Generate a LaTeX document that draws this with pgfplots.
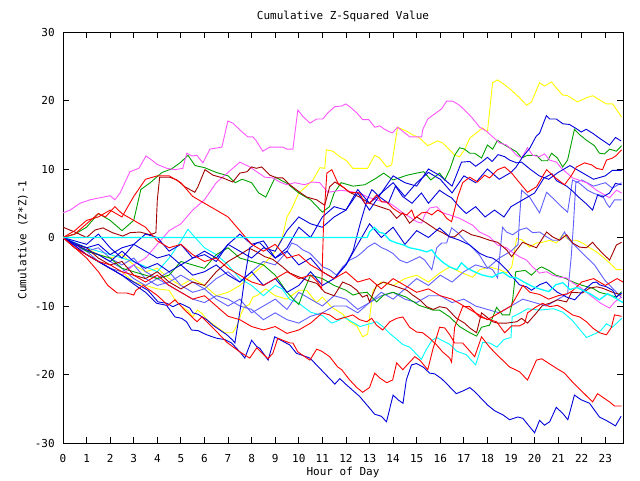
\documentclass[border=0pt]{standalone}
\usepackage{pgfplots}
\pgfplotsset{compat=1.18}
\usepackage{fontspec}
\setmainfont{DejaVu Sans Mono}
\definecolor{cred}{RGB}{255,0,0}
\definecolor{cgreen}{RGB}{0,160,0}
\definecolor{cblue}{RGB}{0,0,220}
\definecolor{cmag}{RGB}{255,85,255}
\definecolor{ccyan}{RGB}{0,255,255}
\definecolor{cdred}{RGB}{160,0,0}
\definecolor{cyel}{RGB}{255,255,0}
\definecolor{clblue}{RGB}{96,96,255}
\begin{document}
\fontsize{11}{13}\selectfont
\begin{tikzpicture}[x=1pt,y=1pt]
\fill[white] (0,0) rectangle (640,480);
\path[use as bounding box] (0,0) rectangle (640,480);
\begin{axis}[
  at={(63pt,37pt)}, anchor=south west, scale only axis,
  width=560pt, height=411pt,
  xmin=0, xmax=23.75, ymin=-30, ymax=30,
  xtick={0,1,...,23}, ytick={-30,-20,...,30},
  tick align=inside, major tick length=6pt,
  axis line style={line width=0.9pt},
  every tick/.style={black, line width=0.9pt},
  /pgf/number format/assume math mode=true,
  xticklabel style={anchor=base, yshift=-19pt},
  yticklabel style={anchor=east, xshift=-4.5pt},
  every axis plot/.append style={line width=0.9pt, no marks},
]
% yellow top
\addplot[cyel] coordinates {(0,0)(0.5,-1)(1,-1.5)(1.5,-2.5)(2,-3)(2.5,-2.5)(3,-4)(3.5,-5)(4,-4.5)(4.5,-6)(5,-7)(5.5,-6)(6,-7)(6.5,-8.5)(7,-8)(7.5,-7)(8,-5.5)(8.5,-4)(9,-2)(9.3,0)(9.5,3)(9.7,4.2)(10.0,6.5)(10.3,7.4)(10.6,8.4)(10.9,10.2)(11.1,10.1)(11.17,12.8)(11.44,12.6)(11.74,11.8)(12.03,11.2)(12.29,10.1)(12.92,10.1)(13.22,12.0)(13.43,11.6)(13.73,10.3)(13.94,10.6)(14.19,16.1)(14.58,15.5)(14.83,15.0)(15.13,14.5)(15.47,13.4)(15.89,14.1)(16.1,13.8)(16.4,12.8)(16.61,12.0)(16.82,11.8)(17.03,12.8)(17.25,14.5)(17.8,16.0)(18.0,15.4)(18.22,22.6)(18.43,23.0)(18.73,22.3)(19.02,21.5)(19.36,20.4)(19.66,19.3)(19.87,19.8)(20.21,22.6)(20.42,22.1)(20.72,22.7)(20.93,21.8)(21.19,20.8)(21.4,20.7)(21.82,19.8)(22.2,20.4)(22.46,20.7)(22.75,20.1)(23.05,19.5)(23.31,19.5)(23.69,17.6)};
% yellow low
\addplot[cyel] coordinates {(0,0)(0.5,-1.5)(1,-2.5)(1.5,-3.5)(2,-4.5)(2.5,-5)(3,-6.5)(3.5,-7)(4,-7.5)(4.5,-7.7)(4.75,-9.1)(5.0,-10)(5.3,-10.7)(5.5,-11.6)(5.7,-10.6)(5.9,-11.1)(6.1,-12)(6.5,-13)(6.86,-13.9)(7.2,-13.9)(7.4,-12.7)(7.57,-11)(7.7,-10.1)(7.9,-9.8)(8.05,-8.7)(8.26,-8.4)(8.6,-7.5)(9.0,-8.5)(9.5,-9)(10,-7.7)(10.33,-7.7)(10.75,-9.5)(11.0,-8.7)(11.4,-10.2)(11.87,-11.2)(12.16,-12.3)(12.46,-12.9)(12.71,-14.5)(12.92,-14.1)(13.1,-9)(13.15,-7.7)(13.5,-6.5)(14,-7)(14.5,-6)(15,-5.5)(15.5,-6.5)(15.97,-5.2)(16.4,-4.3)(16.82,-5.0)(17.37,-5.8)(17.67,-4.7)(18.09,-4.3)(18.52,-4.7)(18.81,-5.2)(19.03,-4.3)(19.24,-0.1)(19.49,-0.4)(19.79,-1.4)(20.08,-0.8)(20.34,-0.7)(20.64,-0.4)(20.93,-0.8)(21.19,0.4)(21.48,-0.4)(21.78,-0.4)(22.03,-0.8)(22.33,-1.5)(22.63,-2.1)(22.88,-2.8)(23.18,-3.7)(23.47,-4.7)(23.69,-4.7)};
% cyan low
\addplot[ccyan] coordinates {(0,0)(1,-1.5)(2,-2.5)(3,-3.5)(4,-5)(4.5,-3)(5,-0.5)(5.3,1.2)(5.6,0)(6,-1.5)(6.5,-2.5)(7,-4)(7.5,-6)(8,-7)(8.5,-8.5)(9,-7)(9.3,-7.5)(9.6,-9)(10,-9.6)(10.5,-10.9)(11,-11.4)(11.4,-12.5)(11.7,-12.1)(11.9,-11.6)(12.3,-12.4)(12.6,-13)(13.0,-12.6)(13.3,-12.3)(13.6,-13.1)(13.85,-14)(14.1,-14.7)(14.4,-15.6)(14.7,-16)(14.9,-16.7)(15.2,-17.8)(15.4,-16.4)(15.65,-15)(15.85,-14.6)(16.06,-15)(16.4,-15.6)(16.7,-16.6)(17.1,-17.1)(17.5,-18.6)(17.8,-15.3)(18.1,-15.4)(18.4,-16)(18.7,-14.9)(19.0,-14.6)(19.05,-11.6)(19.4,-11)(19.7,-10.4)(20.2,-10.6)(20.8,-10.4)(21.2,-10.9)(21.6,-12.1)(22.2,-14.6)(22.6,-14)(22.8,-13.6)(23.05,-12.6)(23.3,-13.1)(23.7,-11.8)};
% light blues
\addplot[clblue] coordinates {(0,0)(0.5,-1)(1,-2)(1.5,-1.5)(2,-3)(2.5,-4)(3,-3)(3.5,-5)(4,-6)(4.5,-5)(5,-7)(5.5,-8)(6,-7.5)(6.5,-9)(7,-10)(7.5,-9)(8,-11)(8.5,-10)(9,-9)(9.5,-10.5)(10,-8)(10.5,-9)(11,-10)(11.5,-8.5)(12,-9)(12.5,-10.5)(13,-9.5)(13.5,-8)(14,-9)(14.5,-7.5)(15,-6)(15.5,-7)(16,-5.5)(16.5,-6.5)(17,-5)(17.5,-4)(18,-4.5)(18.5,-3)(19,-2)(19.3,-1)(19.36,2.8)(19.45,6.9)(19.79,5.9)(20.08,4.3)(20.21,3.6)(20.51,6.6)(20.85,5.5)(21.14,4.5)(21.4,3.7)(21.61,8.4)(21.91,7.9)(22.25,6.9)(22.54,6.4)(22.88,6.1)(23.05,5.0)(23.18,4.4)(23.39,5.5)(23.69,5.5)};
\addplot[clblue] coordinates {(0,0)(0.5,-1.2)(1,-2)(1.5,-3.5)(2,-4.5)(2.5,-5)(3,-4)(3.5,-6)(4,-7)(4.5,-6.5)(5,-5.5)(5.5,-6.5)(6,-7.5)(6.5,-6)(7,-5)(7.5,-6.5)(8,-5)(8.5,-3.5)(9,-4)(9.49,-2.1)(9.7,-0.8)(9.92,-1.1)(10.17,-1.8)(10.47,-2.3)(10.76,-3.3)(11.02,-4.3)(11.31,-4.7)(11.6,-5.5)(11.86,-4.3)(12.16,-3.3)(12.46,-2.8)(12.71,-2.1)(12.92,-1.4)(13.22,-0.8)(13.52,-1.5)(13.73,-1.8)(13.98,-2.3)(14.28,-3.3)(14.58,-3.7)(14.83,-3.3)(15.13,-2.8)(15.34,-3.3)(15.64,-4.7)(15.85,-1.5)(16.06,-0.8)(16.27,-0.8)(16.48,1.4)(16.74,0.7)(17.03,-0.4)(17.37,-1.5)(17.67,-2.6)(17.97,-4.3)(18.22,-4.7)(18.43,-5.9)(18.64,1.5)(18.81,0.8)(19.07,0.4)(19.36,1.1)(19.66,1.4)(19.92,0.7)(20.21,0.8)(20.51,0.1)(20.76,-0.4)(21.06,-0.4)(21.27,0.8)(21.4,-0.1)(21.69,-1.1)(22.12,-2.6)(22.54,-4.0)(22.97,-6.2)(23.39,-7.7)(23.69,-8.8)};
\addplot[clblue] coordinates {(0,0)(0.5,-1)(1,-2)(1.5,-2.5)(2,-3.5)(2.5,-4.5)(3,-6)(3.5,-7)(4,-6)(4.5,-7)(5,-8)(5.5,-9)(6,-9.5)(6.5,-8.5)(7,-9)(7.5,-10)(8,-10.5)(8.5,-12)(9,-11)(9.5,-12)(10,-12.5)(10.5,-11.5)(11,-11)(11.5,-10)(12,-10)(12.5,-11)(13,-9.5)(13.5,-8.5)(14,-8)(14.5,-9)(15,-9.5)(15.5,-8.5)(16,-8.5)(16.5,-9.5)(17,-9)(17.5,-10)(18,-10.5)(18.5,-11)(19,-10)(19.5,-9)(20,-9.5)(20.5,-10)(21,-9)(21.4,-8.2)(21.55,-3)(21.65,2)(21.75,8)(22,8.4)(22.5,7.5)(23,8)(23.3,7.2)(23.69,8.0)};
% greens
\addplot[cgreen] coordinates {(0,0)(0.5,0.5)(1,1.5)(1.5,3.5)(2,2.5)(2.5,1)(3,2.5)(3.3,7)(3.7,8)(4.2,9.5)(4.6,10)(5,11)(5.3,12)(5.6,10.5)(6,10.2)(6.5,9.5)(7,9)(7.3,8)(7.6,8.5)(8,8)(8.3,6.5)(8.6,5.9)(9,8.8)(9.5,7.9)(10,6.5)(10.5,5.5)(11,3.7)(11.3,4.5)(11.5,6.5)(11.8,8)(12.3,7.5)(12.8,7.7)(13.3,8.7)(13.6,9.4)(14,8.4)(14.6,9.1)(15,9.4)(15.3,9.6)(15.6,8.4)(15.97,9.4)(16.19,8.4)(16.4,9.9)(16.61,12.0)(16.82,13.1)(17.03,12.9)(17.25,12.3)(17.46,12.3)(17.75,11.6)(18.0,13.5)(18.22,12.9)(18.43,14.2)(18.73,13.5)(18.94,13.1)(19.24,12.5)(19.45,11.6)(19.7,12.0)(20.08,12.0)(20.3,11.2)(20.55,11.2)(20.72,12.3)(20.97,11.6)(21.19,10.3)(21.4,11.3)(21.69,15.8)(21.91,15.0)(22.2,14.2)(22.54,13.4)(22.75,12.3)(22.97,12.2)(23.18,12.9)(23.47,12.6)(23.69,13.4)};
\addplot[cgreen] coordinates {(0,0)(0.5,-1)(1,-2)(1.5,-2.5)(2,-3)(2.5,-4.5)(3,-5)(3.5,-5.5)(4,-6)(4.5,-5.5)(5,-3.5)(5.5,-4)(6,-4.5)(6.5,-2.5)(7,-1.5)(7.5,-3)(8,-3.5)(8.5,-4)(9,-5.5)(9.5,-8)(9.8,-9.1)(10.0,-9.8)(10.2,-7.9)(10.5,-5.5)(11,-6)(11.5,-7)(12.0,-7.7)(12.3,-8.4)(12.6,-8.1)(12.9,-8.0)(13.3,-9.4)(13.6,-8.4)(14.0,-8.0)(14.55,-8.7)(15.1,-9.9)(15.7,-10.6)(15.97,-10.6)(16.4,-11.6)(16.82,-13.0)(17.25,-13.9)(17.54,-14.4)(17.75,-13.1)(18.09,-12.8)(18.39,-10.2)(18.64,-11.3)(18.94,-11.3)(19.07,-9.1)(19.2,-5)(19.6,-4.8)(19.87,-5.5)(20.17,-4.5)(20.3,-4.3)(20.6,-4.8)(20.9,-5.5)(21.2,-5.8)(21.5,-6.3)(21.78,-6.7)(22.03,-7.0)(22.46,-7.4)(22.75,-8.0)(23.18,-8.4)(23.47,-8.7)(23.69,-7.9)};
% magentas
\addplot[cmag] coordinates {(0,3.6)(0.3,4.0)(0.72,5.0)(1.14,5.5)(1.57,5.8)(2.0,6.1)(2.2,5.5)(2.42,6.5)(2.84,9.6)(3.22,10.1)(3.52,11.9)(3.77,11.3)(3.98,10.7)(4.4,10.1)(4.75,9.9)(5.08,10.1)(5.25,12.3)(5.47,11.9)(5.68,12.0)(5.93,10.9)(6.23,12.9)(6.74,13.2)(6.99,17.0)(7.2,16.7)(7.63,15.3)(7.84,14.7)(8.05,14.7)(8.18,14.2)(8.47,12.6)(8.77,13.2)(9.32,13.2)(9.49,12.9)(9.75,12.9)(9.96,18.6)(10.17,17.7)(10.47,16.7)(10.76,17.3)(11.02,17.3)(11.23,18.2)(11.53,19.1)(11.82,19.2)(11.99,19.5)(12.16,19.1)(12.46,18.2)(12.71,17.2)(12.97,17.2)(13.22,16.1)(13.43,16.3)(13.64,15.8)(13.86,15.4)(13.98,15.3)(14.19,16.1)(14.41,15.5)(14.7,14.7)(15.21,14.7)(15.25,15.7)(15.47,17.3)(16.06,18.8)(16.27,19.9)(16.53,19.9)(16.82,19.3)(17.12,18.3)(17.37,17.4)(17.67,16.1)(17.97,15.5)(18.22,14.7)(18.52,13.8)(18.81,13.5)(19.03,12.8)(19.24,12.0)(19.45,11.6)(19.7,13.1)(19.92,12.0)(20.21,11.8)(20.42,12.2)(20.64,11.3)(20.93,11.0)(21.14,10.1)(21.61,8.7)(22.2,8.0)(22.63,6.9)(23.18,5.8)(23.47,6.9)(23.69,6.5)};
\addplot[cmag] coordinates {(0,0)(0.5,-1)(1,-2.5)(1.5,-3.5)(2,-4.5)(2.5,-5.5)(3,-4)(3.5,-3)(4,-1)(4.5,1)(5,2)(5.5,4)(6,5.5)(6.5,8)(7,9.5)(7.5,11)(7.92,10.3)(8.22,9.6)(8.56,8.8)(8.9,8.7)(9.19,8.1)(9.49,7.7)(9.83,8.0)(10.25,7.7)(10.55,8.1)(10.89,8.0)(11.23,6.6)(11.8,6.9)(12.58,6.5)(12.92,5.9)(13.3,5.5)(13.56,5.2)(13.86,5.0)(14.15,4.3)(14.41,3.6)(14.7,3.0)(15.0,2.3)(15.21,2.1)(15.34,3.3)(15.55,4.3)(15.85,4.5)(16.1,3.6)(16.4,3.3)(16.82,2.8)(17.37,1.8)(17.67,0.8)(18.09,0.1)(18.43,-1.1)(18.81,-1.5)(19.03,-2.1)(19.36,-2.8)(19.66,-3.3)(19.92,-4.3)(20.21,-5.2)(20.51,-5.0)(20.76,-5.5)(21.06,-5.8)(21.36,-5.9)(21.61,-6.6)(21.91,-7.2)(22.2,-8.0)(22.46,-8.7)(22.8,-9.6)(23.18,-10.3)(23.4,-9.4)(23.69,-8.7)};
% dark reds
\addplot[cdred] coordinates {(0,1.5)(0.5,0.8)(1,0)(1.36,1.1)(1.7,1.4)(2.1,0.7)(2.54,0.2)(2.84,0.7)(3.26,0.8)(3.69,0.4)(3.94,0.7)(4.0,5.5)(4.1,8.8)(4.53,8.8)(4.83,8.4)(5.17,7.4)(5.59,6.6)(5.72,7.4)(6.02,9.9)(6.36,9.1)(6.78,8.7)(7.2,8.1)(7.5,9.4)(7.8,9.6)(8.0,10.3)(8.2,10.1)(8.43,10.3)(8.77,9.1)(9.07,8.7)(9.32,8.7)(9.62,7.7)(10.04,6.6)(10.34,5.9)(10.76,5.5)(11.1,4.7)(11.31,7.4)(11.53,8.1)(11.86,7.4)(12.16,6.6)(12.58,5.9)(13.0,5.0)(13.43,4.5)(13.86,4.0)(14.15,2.8)(14.41,3.6)(14.7,2.1)(15.0,3.0)(15.42,2.1)(15.85,1.1)(16.1,0.7)(16.4,0.1)(16.61,0.1)(16.95,1.1)(17.33,0.4)(17.67,0.1)(18.09,-0.4)(18.43,-0.7)(18.81,-1.8)(19.03,-2.8)(19.24,-1.8)(19.49,-0.7)(19.79,-1.1)(20.08,-1.5)(20.51,0.8)(20.76,0.1)(21.06,-0.4)(21.36,0.4)(21.61,-0.8)(21.91,-1.4)(22.2,-1.5)(22.46,-0.7)(22.63,-1.4)(22.88,-2.3)(23.18,-3.3)(23.47,-1.1)(23.69,-0.7)};
\addplot[cdred] coordinates {(0,0)(0.5,-1)(1,-1.5)(1.5,-3)(2,-4)(2.5,-3.5)(3,-5.5)(3.5,-6)(4,-5)(4.5,-6.5)(5,-7.5)(5.5,-6.5)(6,-7)(6.5,-5)(7,-3.5)(7.5,-2.5)(7.92,-1.6)(8.22,-2.1)(8.56,-2.8)(8.9,-3.2)(9.28,-4.2)(9.62,-5.2)(10.04,-5.8)(10.38,-6.3)(10.76,-6.7)(11.1,-8)(11.5,-8.5)(11.86,-6.5)(12.2,-7)(12.46,-7.7)(12.7,-8.7)(12.9,-8.4)(13.0,-9.4)(13.3,-7)(13.6,-6.5)(14.0,-7)(14.58,-7.7)(14.83,-8.4)(15.13,-9.1)(15.42,-10.1)(15.7,-10.5)(15.97,-10.1)(16.27,-10.3)(16.69,-11.8)(17.03,-12.5)(17.25,-13.2)(17.54,-13.9)(17.75,-11.0)(17.97,-11.6)(18.22,-12.3)(18.43,-12.5)(18.81,-12.5)(19.24,-12.3)(19.45,-11.8)(19.7,-12.5)(20.08,-11.0)(20.34,-9.9)(20.64,-9.6)(20.97,-9.1)(21.36,-9.4)(21.57,-8.0)(22.03,-8.1)(22.33,-7.4)(22.63,-7.2)(22.88,-7.4)(23.31,-8.0)(23.69,-8.4)};
% blues
\addplot[cblue] coordinates {(0,0)(0.5,-0.8)(1,-1.5)(1.5,-1)(2,-2.5)(2.5,-1.5)(3,-1)(3.5,-2)(4,-3)(4.5,-2.5)(5,-4)(5.5,-3)(6,-2)(6.5,-3)(7,-1)(7.5,-2)(8,-3)(8.5,-1.5)(9,-2)(9.5,1)(10,3)(10.5,2)(11,1.5)(11.5,3)(12,4)(12.5,7)(13,5)(13.5,6.5)(14,8)(14.5,6)(15,8)(15.5,9.5)(16,8.5)(16.5,6.5)(17,9)(17.5,8)(18,10)(18.5,8.5)(19,9.5)(19.22,10.3)(19.5,11.8)(19.79,13.0)(20.07,14.8)(20.21,15.2)(20.5,17.8)(20.64,17.3)(20.92,17.3)(21.2,16.6)(21.48,16.5)(21.77,15.9)(21.98,15.4)(22.19,15.8)(22.47,15.2)(22.75,14.5)(23.18,13.5)(23.43,14.6)(23.67,14.1)};
\addplot[cblue] coordinates {(0,0)(0.5,-0.5)(1,-1)(1.5,0.5)(2,-1.5)(2.5,-3)(3,-1)(3.5,0.5)(4,0)(4.5,-2)(5,-1)(5.5,-3)(6,-2.5)(6.5,-3.5)(7,-1)(7.5,0.5)(8,-1)(8.5,-0.5)(9,-3)(9.5,-1.5)(10,1.5)(10.5,0)(11,3)(11.5,4.5)(12,4)(12.5,6.5)(13,4)(13.5,6.5)(14,9)(14.5,8)(15,7.5)(15.5,10)(16,9)(16.5,7.5)(16.9,11)(17.25,11.1)(17.5,10.4)(17.75,11)(18,11.7)(18.2,11.1)(18.45,12.1)(18.73,11.8)(18.94,11.3)(19.24,10.9)(19.45,11)(19.8,10)(20.2,9)(20.6,8.5)(21,9.5)(21.5,10.5)(22,9.5)(22.5,8.5)(23,9)(23.3,9.8)(23.69,9.8)};
\addplot[cblue] coordinates {(0,0)(0.5,-1)(1,-1.8)(1.5,-2.5)(2,-3.5)(2.5,-2)(3,-3.5)(3.5,-4.5)(4,-3.8)(4.5,-5)(5,-4)(5.5,-5.5)(6,-5)(6.5,-4)(7,-5.5)(7.5,-6.5)(8,-5)(8.5,-7)(9,-6)(9.5,-8)(10,-7)(10.5,-5)(11,-7)(11.5,-6)(12,-4)(12.3,-2)(12.6,2)(12.9,5.5)(13.1,7)(13.4,6)(13.8,5)(14.1,7.5)(14.4,6)(14.8,5)(15.2,6.5)(15.5,5)(15.97,6.9)(16.27,6.2)(16.48,5.8)(16.8,4.5)(17.1,3.5)(17.5,4.5)(17.9,3)(18.3,4)(18.7,3)(19.0,4.5)(19.5,5.5)(20.0,6.5)(20.4,8.7)(20.74,9.3)(20.93,8.3)(21.36,7.5)(21.6,6.8)(21.9,5.8)(22.2,4.9)(22.46,4.0)(22.67,6.2)(22.88,5.9)(23.18,6.5)(23.43,7.9)(23.69,7.7)};
\addplot[cblue] coordinates {(0,0)(0.5,-1.5)(1,-2.5)(1.5,-3.5)(2,-4.5)(2.5,-5.5)(3,-6.5)(3.6,-7.7)(4.03,-9.4)(4.4,-9.6)(4.66,-10.1)(4.96,-9.6)(5.38,-10.3)(5.51,-11.0)(5.72,-11.2)(6.1,-12.0)(6.36,-12.8)(6.65,-13.5)(6.95,-14.2)(7.2,-15.0)(7.29,-15.4)(7.58,-9.1)(7.71,-5.8)(7.92,-1.5)(8.22,-0.8)(8.35,-0.8)(8.7,-2)(9,-3)(9.5,-2)(10,-4)(10.5,-3)(11,-5)(11.5,-6)(12,-4)(12.5,-1)(13,2)(13.5,0)(14,1.5)(14.5,-1)(15,1)(15.5,0)(15.97,1.4)(16.4,0.1)(16.82,-0.4)(17.25,-1.1)(17.67,-2.3)(17.97,-2.8)(18.22,-3.0)(18.52,-3.7)(18.81,-4.7)(19.07,-5.8)(19.36,-6.9)(19.66,-7.2)(19.87,-7.7)(20.21,-6.9)(20.5,-6.5)(20.76,-7.4)(20.97,-8.0)(21.36,-8.7)(21.7,-9.1)(22.0,-8)(22.46,-6.6)(22.63,-6.5)(22.75,-6.9)(23.05,-7.2)(23.31,-7.7)(23.47,-8.7)(23.69,-8.1)};
\addplot[cblue] coordinates {(0,0)(0.5,-1.2)(1,-2.5)(1.5,-3.5)(2,-4.5)(2.5,-5.5)(3,-6.8)(3.5,-8)(3.97,-9.6)(4.39,-9.9)(4.75,-11.6)(5.03,-11.8)(5.24,-12.3)(5.45,-13.5)(5.73,-13.6)(6.09,-14.2)(6.51,-14.7)(6.86,-14.9)(7.15,-15.4)(7.5,-16.7)(7.71,-17.6)(8.0,-15.0)(8.21,-15.9)(8.35,-16.2)(8.7,-17.9)(8.98,-14.5)(9.19,-14.9)(9.62,-15.7)(9.9,-16.9)(10.47,-17.6)(11.03,-19.6)(11.53,-21.4)(11.74,-20.6)(12.02,-21.5)(12.58,-23.2)(13.22,-25.8)(13.5,-26.1)(13.72,-26.9)(14.0,-23.0)(14.21,-23.7)(14.42,-24.2)(14.56,-20.8)(14.78,-18.6)(14.99,-18.4)(15.27,-18.9)(15.55,-19.8)(15.76,-19.9)(16.05,-20.6)(16.26,-21.3)(16.68,-22.8)(16.96,-22.4)(17.25,-21.9)(17.46,-22.5)(17.74,-23.5)(18.02,-24.5)(18.31,-25.3)(18.66,-25.9)(18.94,-26.6)(19.29,-26.2)(19.5,-26.4)(20.0,-28.5)(20.21,-26.7)(20.42,-27.4)(20.64,-26.9)(20.92,-24.8)(21.2,-25.7)(21.41,-26.6)(21.69,-23.0)(21.98,-23.7)(22.33,-24.2)(22.54,-25.2)(22.75,-26.2)(23.04,-26.7)(23.43,-27.5)(23.67,-26.1)};
% reds
\addplot[cred] coordinates {(0,0)(0.5,0.5)(1,2)(1.5,3.5)(1.8,3)(2.2,4.5)(2.5,3.5)(3,2.5)(3.5,1.5)(4,-0.5)(4.5,-1.5)(5,-1)(5.5,-2.5)(6,-3.5)(6.5,-3)(7,-4.5)(7.5,-5.5)(8,-6.5)(8.5,-7)(9,-6)(9.5,-5)(10,-6)(10.5,-5.5)(10.8,-6.5)(10.97,-7.5)(11.05,2)(11.19,9.4)(11.4,9.9)(11.65,8.0)(11.86,7.4)(12.16,6.6)(12.58,6.5)(12.8,5.0)(13.0,5.0)(13.3,6.2)(13.52,5.2)(13.73,5.2)(13.98,4.3)(14.28,3.6)(14.58,3.3)(14.79,4.0)(14.92,2.8)(15.21,3.6)(15.42,3.7)(15.64,3.3)(15.89,4.0)(16.1,3.6)(16.27,2.8)(16.48,2.3)(16.74,5.9)(16.95,8.0)(17.25,8.8)(17.58,8.1)(17.88,9.1)(18.09,8.7)(18.43,9.9)(18.73,10.3)(19.03,9.4)(19.36,8.0)(19.7,6.6)(20.08,7.4)(20.51,9.9)(20.85,8.8)(21.27,7.7)(21.57,9.1)(21.78,10.3)(22.12,10.9)(22.42,10.6)(22.63,10.1)(22.88,9.9)(23.05,11.3)(23.31,11.6)(23.47,12.0)(23.69,12.8)};
\addplot[cred] coordinates {(0,0)(0.5,1)(1,2.5)(1.5,3)(2,4)(2.5,3)(3,6)(3.5,8.5)(4,9)(4.5,9)(5,8)(5.5,6)(6,5)(6.5,4)(7,3)(7.5,1)(8,-1)(8.5,-2)(9,-1)(9.5,-3)(10,-2.5)(10.5,-4)(11,-5)(11.5,-6)(12,-5)(12.5,-6.5)(13,-6)(13.5,-7.5)(14,-6)(14.5,-7)(15,-8)(15.5,-7.5)(16,-8.5)(16.5,-9)(17,-10)(17.5,-11)(18,-12)(18.5,-11)(19,-10)(19.5,-7)(19.8,-8)(20.2,-8.3)(20.6,-9)(21,-8.5)(21.4,-8.2)(21.6,-7.8)(22,-6.5)(22.5,-6)(23,-7)(23.5,-6)(23.75,-6.5)};
\addplot[cred] coordinates {(0,0)(0.5,-1.5)(1,-2.5)(1.5,-3.5)(2,-4)(2.5,-5)(3,-5.5)(3.5,-6.5)(4,-5.5)(4.5,-7)(5,-8)(5.5,-9)(6,-8.5)(6.5,-10)(7,-11.5)(7.5,-12)(8,-13)(8.5,-13.5)(9,-13)(9.5,-14)(10,-13.5)(10.5,-12.5)(11,-11)(11.31,-11.3)(11.6,-12.0)(12.03,-11.6)(12.29,-11.3)(12.58,-12.0)(12.88,-12.3)(13.09,-11.8)(13.3,-12.8)(13.56,-13.5)(13.86,-12.3)(14.15,-11.8)(14.41,-11.6)(14.7,-13.1)(15.0,-13.8)(15.25,-13.9)(15.55,-14.7)(15.85,-15.7)(16.1,-16.7)(16.4,-17.6)(16.48,-18.2)(16.61,-13.1)(16.95,-10.1)(17.25,-10.1)(17.67,-11.6)(18.39,-12.3)(18.73,-13.9)(19.03,-12.9)(19.36,-12.9)(19.58,-12.5)(19.7,-11.0)(20.08,-10.1)(20.34,-9.6)(20.64,-10.1)(20.97,-9.9)(21.19,-10.3)(21.61,-11.3)(21.91,-11.6)(22.2,-12.3)(22.46,-13.2)(22.75,-13.9)(23.05,-14.2)(23.26,-13.1)(23.39,-11.3)(23.69,-11.5)};
\addplot[cred] coordinates {(0,0)(0.5,-1.5)(1,-3)(1.5,-5)(1.9,-7)(2.3,-8.1)(2.7,-8.1)(3.0,-8.4)(3.1,-7.7)(3.4,-7)(3.69,-7.7)(3.98,-8.4)(4.45,-9.9)(4.75,-9.1)(5.17,-10.6)(5.68,-12.3)(5.89,-11.6)(6.53,-13.8)(6.95,-15.3)(7.5,-16.7)(7.92,-17.6)(8.22,-16.1)(8.69,-17.7)(8.9,-16.9)(9.11,-14.7)(9.32,-15.0)(9.62,-15.4)(9.75,-15.4)(9.96,-16.7)(10.47,-17.9)(10.76,-16.3)(10.97,-16.6)(11.31,-17.4)(11.65,-18.9)(11.82,-19.3)(12.16,-20.8)(12.46,-21.9)(12.71,-22.6)(13.0,-21.9)(13.22,-19.8)(13.43,-20.5)(13.73,-21.2)(13.98,-20.8)(14.15,-18.3)(14.41,-19.3)(14.62,-18.5)(14.92,-17.4)(15.13,-17.9)(15.47,-19.3)(15.68,-16.4)(15.97,-13.1)(16.19,-13.2)(16.4,-14.2)(16.61,-15.4)(16.95,-15.4)(17.46,-17.4)(17.75,-14.5)(18.09,-16)(18.43,-17.2)(18.94,-18.9)(19.36,-19.6)(19.7,-20.8)(20.08,-17.9)(20.3,-17.7)(20.93,-19.1)(21.27,-19.8)(21.61,-21.1)(22.46,-24.0)(22.67,-22.8)(23.18,-24.0)(23.39,-24.6)(23.69,-24.6)};
% cyan flat (drawn last)
\addplot[ccyan, line width=1.3pt] coordinates {(0,0)(12.9,0)(13.0,0.8)(13.2,1.5)(13.4,0.8)(13.6,0.6)(13.86,-0.4)(14.15,-0.8)(14.45,-1.1)(14.7,-1.5)(15.13,-1.8)(15.42,-2.1)(15.64,-1.8)(15.85,-2.8)(16.1,-3.6)(16.4,-4.3)(16.7,-4.7)(16.9,-3.7)(17.15,-4.5)(17.45,-5.0)(17.8,-5.5)(18.2,-5.8)(18.45,-5.3)(18.66,-5.1)(18.96,-5.8)(19.25,-5.9)(19.6,-6.6)(19.94,-7.2)(20.3,-7.6)(20.6,-7.9)(20.9,-6.9)(21.2,-6.6)(21.5,-7.6)(21.8,-7.3)(22.1,-7.8)(22.4,-8.3)(22.75,-9.1)(23.1,-8.2)(23.4,-8.8)(23.75,-9.5)};
\end{axis}
\node[anchor=base] at (343,460) {Cumulative Z-Squared Value};
\node[anchor=base] at (343,5) {Hour of Day};
\node[rotate=90] at (23,240) {Cumulative (Z*Z)-1};
\end{tikzpicture}
\end{document}
